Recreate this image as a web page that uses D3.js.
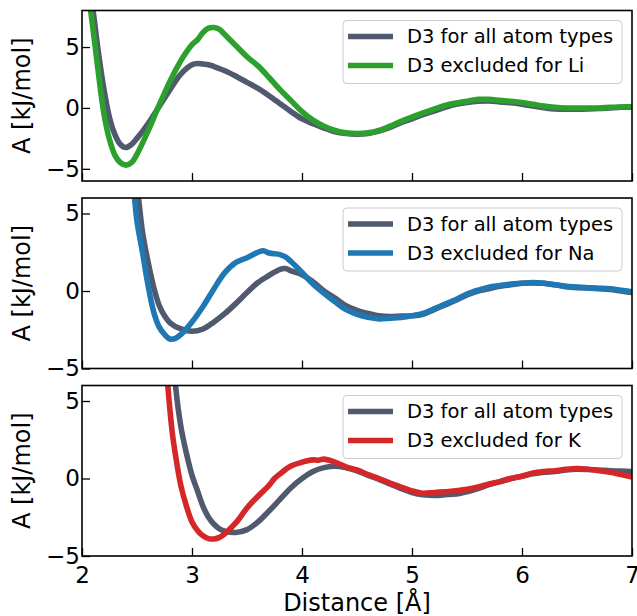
<!DOCTYPE html>
<html>
<head>
<meta charset="utf-8">
<script src="https://cdn.jsdelivr.net/npm/d3@7"></script>
<style>
  html, body { margin: 0; padding: 0; background: #fff; }
  svg { display: block; font-family: "DejaVu Sans", sans-serif; }
</style>
</head>
<body>
<svg id="chart" width="637" height="616"></svg>
<script>
// ---------------- DATA ----------------
const xTicks = [2, 3, 4, 5, 6, 7];
const yTicks = [-5, 0, 5];
const seriesNames = ["D3 for all atom types", "D3 excluded for Li", "D3 excluded for Na", "D3 excluded for K"];
const seriesColors = ["#505a6e", "#2ca02c", "#1f77b4", "#d62728"];

// Panel 1 (Li)
const liAllX = [2.0, 2.05, 2.1, 2.15, 2.2, 2.25, 2.3, 2.35, 2.4, 2.45, 2.5, 2.6, 2.7, 2.8, 2.9, 3.0, 3.05, 3.1, 3.15, 3.2, 3.3, 3.4, 3.5, 3.6, 3.7, 3.8, 3.9, 4.0, 4.1, 4.2, 4.3, 4.4, 4.5, 4.6, 4.7, 4.8, 4.9, 5.0, 5.1, 5.2, 5.3, 5.4, 5.5, 5.6, 5.7, 5.8, 5.9, 6.0, 6.1, 6.2, 6.3, 6.4, 6.5, 6.6, 6.7, 6.8, 6.9, 7.0];
const liAllY = [14, 11, 8, 4.5, 1.5, -0.8, -2.2, -3.0, -3.25, -3.0, -2.5, -1.3, 0.1, 1.5, 2.8, 3.55, 3.65, 3.6, 3.55, 3.4, 3.05, 2.6, 2.1, 1.6, 1.0, 0.35, -0.3, -0.9, -1.3, -1.65, -1.95, -2.1, -2.15, -2.1, -1.9, -1.6, -1.2, -0.9, -0.55, -0.25, 0.05, 0.3, 0.45, 0.55, 0.58, 0.5, 0.42, 0.3, 0.15, 0.02, -0.08, -0.1, -0.1, -0.08, -0.05, 0.0, 0.05, 0.05];
const liExcX = [2.0, 2.05, 2.1, 2.15, 2.2, 2.25, 2.3, 2.35, 2.4, 2.45, 2.5, 2.6, 2.7, 2.8, 2.9, 2.95, 3.0, 3.05, 3.1, 3.15, 3.2, 3.25, 3.3, 3.4, 3.5, 3.6, 3.7, 3.8, 3.9, 4.0, 4.1, 4.2, 4.3, 4.4, 4.5, 4.6, 4.7, 4.8, 4.9, 5.0, 5.1, 5.2, 5.3, 5.4, 5.5, 5.6, 5.7, 5.8, 5.9, 6.0, 6.1, 6.2, 6.3, 6.4, 6.5, 6.6, 6.7, 6.8, 6.9, 7.0];
const liExcY = [14, 10, 6.5, 2.8, -0.5, -2.6, -3.9, -4.5, -4.7, -4.5, -3.8, -1.9, 0.2, 2.2, 3.9, 4.6, 5.2, 5.6, 6.2, 6.55, 6.6, 6.45, 6.0, 5.1, 4.2, 3.45, 2.5, 1.5, 0.6, -0.3, -1.0, -1.5, -1.85, -2.05, -2.1, -2.05, -1.85, -1.5, -1.1, -0.75, -0.4, -0.1, 0.2, 0.4, 0.55, 0.7, 0.7, 0.62, 0.55, 0.45, 0.3, 0.15, 0.05, 0.0, 0.0, 0.0, 0.0, 0.05, 0.08, 0.1];

// Panel 2 (Na)
const naAllX = [2.45, 2.5, 2.55, 2.6, 2.65, 2.7, 2.75, 2.8, 2.9, 3.0, 3.1, 3.2, 3.3, 3.4, 3.5, 3.6, 3.7, 3.8, 3.85, 3.9, 4.0, 4.1, 4.2, 4.3, 4.4, 4.5, 4.6, 4.7, 4.8, 4.9, 5.0, 5.1, 5.2, 5.3, 5.4, 5.5, 5.6, 5.7, 5.8, 5.9, 6.0, 6.1, 6.2, 6.3, 6.4, 6.5, 6.6, 6.7, 6.8, 6.9, 7.0];
const naAllY = [9, 6.8, 3.8, 1.9, 0.3, -0.9, -1.6, -2.05, -2.45, -2.6, -2.45, -2.0, -1.45, -0.8, -0.1, 0.55, 1.0, 1.4, 1.45, 1.3, 1.05, 0.6, 0.0, -0.45, -0.95, -1.25, -1.45, -1.6, -1.65, -1.62, -1.6, -1.5, -1.2, -0.9, -0.6, -0.25, 0.0, 0.15, 0.3, 0.4, 0.5, 0.52, 0.5, 0.4, 0.28, 0.22, 0.2, 0.15, 0.1, 0.0, -0.1];
const naExcX = [2.42, 2.47, 2.5, 2.55, 2.6, 2.65, 2.7, 2.75, 2.8, 2.85, 2.9, 3.0, 3.1, 3.2, 3.3, 3.4, 3.5, 3.6, 3.65, 3.7, 3.8, 3.85, 3.9, 4.0, 4.1, 4.2, 4.3, 4.4, 4.5, 4.6, 4.7, 4.8, 4.9, 5.0, 5.1, 5.2, 5.3, 5.4, 5.5, 5.6, 5.7, 5.8, 5.9, 6.0, 6.1, 6.2, 6.3, 6.4, 6.5, 6.6, 6.7, 6.8, 6.9, 7.0];
const naExcY = [9, 6.5, 4.5, 2.5, 0.4, -1.3, -2.3, -2.8, -3.1, -3.05, -2.8, -2.0, -1.0, 0.15, 1.2, 1.85, 2.15, 2.5, 2.6, 2.45, 2.35, 2.2, 1.9, 1.2, 0.45, -0.15, -0.7, -1.2, -1.5, -1.7, -1.8, -1.75, -1.7, -1.6, -1.45, -1.15, -0.85, -0.55, -0.2, 0.05, 0.25, 0.35, 0.45, 0.5, 0.55, 0.5, 0.4, 0.3, 0.25, 0.2, 0.18, 0.15, 0.05, -0.05];

// Panel 3 (K)
const kAllX = [2.82, 2.85, 2.9, 2.95, 3.0, 3.05, 3.1, 3.15, 3.2, 3.25, 3.3, 3.4, 3.5, 3.6, 3.7, 3.8, 3.9, 4.0, 4.1, 4.2, 4.3, 4.4, 4.5, 4.6, 4.7, 4.8, 4.9, 5.0, 5.1, 5.2, 5.3, 5.4, 5.5, 5.6, 5.7, 5.8, 5.9, 6.0, 6.1, 6.2, 6.3, 6.4, 6.5, 6.6, 6.7, 6.8, 6.9, 7.0];
const kAllY = [9, 6, 3.3, 1.6, 0.2, -0.8, -1.8, -2.5, -2.95, -3.25, -3.4, -3.48, -3.3, -2.8, -2.1, -1.35, -0.6, 0.0, 0.45, 0.7, 0.8, 0.7, 0.5, 0.2, -0.05, -0.35, -0.65, -0.9, -1.05, -1.1, -1.05, -1.0, -0.85, -0.65, -0.4, -0.2, 0.0, 0.15, 0.3, 0.4, 0.45, 0.55, 0.6, 0.58, 0.55, 0.5, 0.48, 0.45];
const kExcX = [2.75, 2.78, 2.82, 2.85, 2.9, 2.95, 3.0, 3.05, 3.1, 3.15, 3.2, 3.25, 3.3, 3.4, 3.5, 3.6, 3.7, 3.75, 3.8, 3.9, 4.0, 4.05, 4.1, 4.15, 4.2, 4.3, 4.4, 4.5, 4.6, 4.7, 4.8, 4.9, 5.0, 5.1, 5.2, 5.3, 5.4, 5.5, 5.6, 5.7, 5.8, 5.9, 6.0, 6.1, 6.2, 6.3, 6.4, 6.5, 6.6, 6.7, 6.8, 6.9, 7.0];
const kExcY = [9, 6, 3.0, 1.5, -0.5, -1.8, -2.8, -3.35, -3.7, -3.88, -3.9, -3.8, -3.55, -2.85, -1.9, -1.15, -0.45, 0.0, 0.3, 0.8, 1.05, 1.15, 1.2, 1.18, 1.25, 1.05, 0.75, 0.55, 0.25, 0.0, -0.3, -0.55, -0.8, -0.95, -0.9, -0.85, -0.8, -0.7, -0.55, -0.35, -0.2, 0.0, 0.15, 0.35, 0.45, 0.5, 0.6, 0.65, 0.6, 0.5, 0.4, 0.25, 0.1];

const panels = [
  { yDomain: [-6, 8], top: 10.5, allX: liAllX, allY: liAllY, excX: liExcX, excY: liExcY, name: seriesNames[1], color: seriesColors[1] },
  { yDomain: [-5, 6], top: 198, allX: naAllX, allY: naAllY, excX: naExcX, excY: naExcY, name: seriesNames[2], color: seriesColors[2] },
  { yDomain: [-5, 6], top: 385.5, allX: kAllX, allY: kAllY, excX: kExcX, excY: kExcY, name: seriesNames[3], color: seriesColors[3] }
];

// ---------------- LAYOUT ----------------
const svg = d3.select("#chart");
const left = 82, right = 632, panelH = 170.5;
const lw = 5.6;
const x = d3.scaleLinear().domain([2, 7]).range([left, right]);
const fmt = d => (d < 0 ? "\u2212" + Math.abs(d) : String(d));

panels.forEach((p, i) => {
  const y = d3.scaleLinear().domain(p.yDomain).range([p.top + panelH, p.top]);
  const g = svg.append("g");
  const clipId = "clip" + i;
  svg.append("clipPath").attr("id", clipId)
    .append("rect").attr("x", left).attr("y", p.top).attr("width", right - left).attr("height", panelH);

  const line = d3.line().x(d => x(d[0])).y(d => y(d[1])).curve(d3.curveCatmullRom.alpha(0.5));
  const lines = g.append("g").attr("clip-path", `url(#${clipId})`);
  lines.append("path")
    .datum(p.allX.map((v, k) => [v, p.allY[k]]))
    .attr("d", line).attr("fill", "none").attr("stroke", seriesColors[0])
    .attr("stroke-width", lw).attr("stroke-linejoin", "round").attr("stroke-linecap", "butt");
  lines.append("path")
    .datum(p.excX.map((v, k) => [v, p.excY[k]]))
    .attr("d", line).attr("fill", "none").attr("stroke", p.color)
    .attr("stroke-width", lw).attr("stroke-linejoin", "round").attr("stroke-linecap", "butt");

  // axes
  const yAxis = d3.axisLeft(y).tickValues(yTicks).tickSize(-8).tickPadding(3).tickFormat(fmt);
  const ya = g.append("g").attr("transform", `translate(${left},0)`).call(yAxis);
  ya.select(".domain").remove();
  ya.selectAll(".tick line").attr("stroke", "#000").attr("stroke-width", 1.3);
  ya.selectAll(".tick text").attr("font-size", 23).attr("fill", "#000")
    .attr("font-family", "DejaVu Sans").attr("x", -2);

  const xAxis = d3.axisBottom(x).tickValues(xTicks).tickSize(-8).tickPadding(11)
    .tickFormat(i === 2 ? d3.format("d") : () => "");
  const xa = g.append("g").attr("transform", `translate(0,${p.top + panelH})`).call(xAxis);
  xa.select(".domain").remove();
  xa.selectAll(".tick line").attr("stroke", "#000").attr("stroke-width", 1.3);
  xa.selectAll(".tick text").attr("font-size", 23).attr("fill", "#000").attr("font-family", "DejaVu Sans");

  // frame
  g.append("rect").attr("x", left).attr("y", p.top).attr("width", right - left).attr("height", panelH)
    .attr("fill", "none").attr("stroke", "#000").attr("stroke-width", 1.6);

  // y label
  g.append("text")
    .attr("transform", `translate(22,${p.top + panelH / 2}) rotate(-90)`)
    .attr("text-anchor", "middle").attr("dominant-baseline", "central")
    .attr("font-size", 24).attr("fill", "#000").text("A [kJ/mol]");

  // legend
  const lg = g.append("g").attr("transform", `translate(343,${p.top + 10})`);
  lg.append("rect").attr("x", 0).attr("y", 0).attr("width", 279).attr("height", 63).attr("rx", 4)
    .attr("fill", "#fff").attr("fill-opacity", 0.8).attr("stroke", "#cccccc").attr("stroke-width", 1);
  [[seriesNames[0], seriesColors[0]], [p.name, p.color]].forEach((e, k) => {
    const cy = 16 + k * 29;
    lg.append("line").attr("x1", 5).attr("x2", 50).attr("y1", cy).attr("y2", cy)
      .attr("stroke", e[1]).attr("stroke-width", lw);
    lg.append("text").attr("x", 64).attr("y", cy).attr("dominant-baseline", "central")
      .attr("font-size", 19.5).attr("fill", "#000").text(e[0]);
  });
});

// x label
svg.append("text").attr("x", (left + right) / 2).attr("y", 611)
  .attr("text-anchor", "middle").attr("font-size", 24).attr("fill", "#000").text("Distance [Å]");
</script>
</body>
</html>
